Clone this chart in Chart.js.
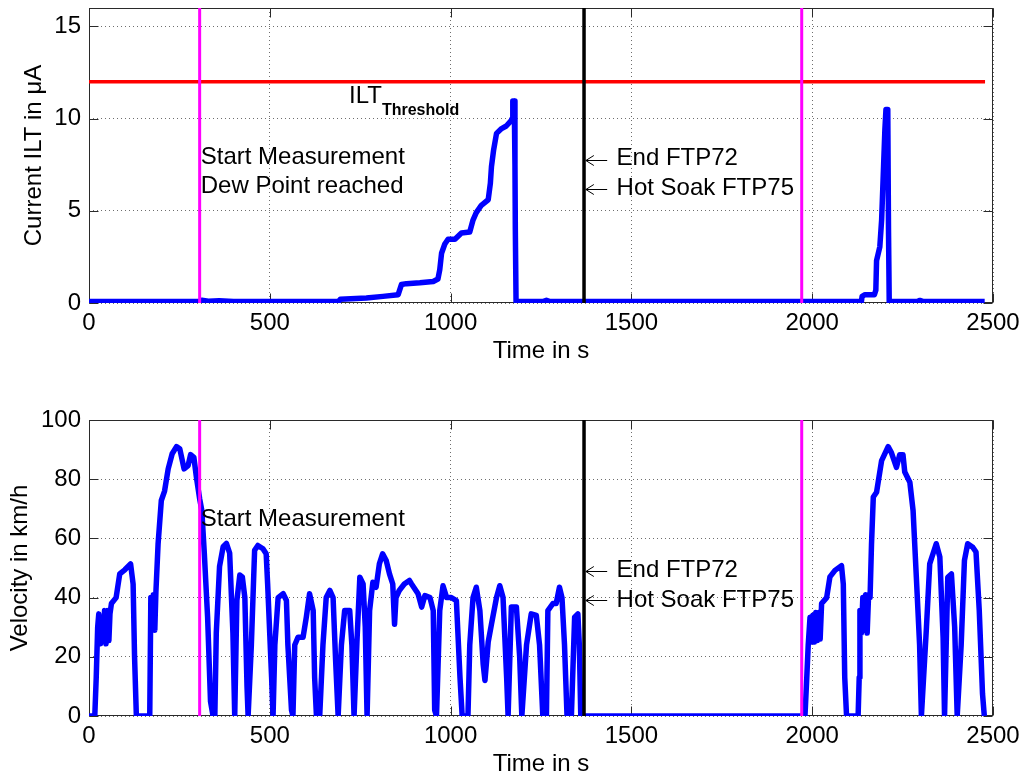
<!DOCTYPE html>
<html><head><meta charset="utf-8">
<script src="https://cdn.jsdelivr.net/npm/chart.js@4.4.1/dist/chart.umd.min.js"></script>
<style>
html,body{margin:0;padding:0;background:#fff;overflow:hidden;width:1022px;height:775px;}
canvas{position:absolute;left:0;}
#c1{top:0}
#c2{top:390px}
</style></head><body>
<canvas id="c1" width="1022" height="380"></canvas>
<canvas id="c2" width="1022" height="400"></canvas>
<script>
// ---------- data ----------
const timeTicks = [0, 500, 1000, 1500, 2000, 2500];
const iltTicks = [0, 5, 10, 15];
const velTicks = [0, 20, 40, 60, 80, 100];

const iltTime = [0,305,312,330,360,400,690,695,767,813,855,864,878,915,952,965,970,975,984,993,1012,1030,1053,1062,1071,1085,1104,1110,1113,1119,1127,1141,1154,1168,1170,1172,1176,1178,1179,1181,1255,1265,1275,2136,2138,2146,2172,2176,2178,2187,2192,2196,2201,2204,2209,2211,2213,2290,2298,2308,2477];
const iltValue = [0.08,0.08,0.15,0.1,0.12,0.08,0.08,0.2,0.27,0.36,0.45,1.0,1.05,1.1,1.17,1.3,1.8,2.7,3.2,3.46,3.46,3.8,3.85,4.5,4.9,5.3,5.6,6.5,7.4,8.3,9.2,9.46,9.6,9.9,10.0,10.95,10.95,7.5,4,0.08,0.08,0.15,0.08,0.08,0.36,0.45,0.45,0.7,2.3,3.05,4.5,6.66,9.4,10.5,10.5,4,0.08,0.08,0.14,0.08,0.08];

const velTime = [
0,16,20,24,27,32,36,39,43,47,
51,55,58,62,75,85,99,115,122,126,
131,168,171,174,178,182,185,191,200,209,
219,230,242,251,263,274,281,290,297,306,
312,319,328,336,343,348,352,361,371,380,
389,398,403,409,417,424,431,437,440,449,
458,467,481,490,494,505,509,514,523,537,
546,550,560,564,569,578,592,601,610,620,
624,629,638,647,656,666,675,682,689,698,
707,721,727,733,741,749,758,764,769,776,
785,794,803,812,822,831,840,845,849,858,
872,886,892,910,920,929,943,952,956,961,
970,979,989,1002,1016,1026,1032,1048,1053,1062,
1071,1081,1090,1095,1104,1113,1127,1136,1145,1155,
1159,1168,1182,1191,1197,1210,1223,1237,1246,1255,
1265,1269,1283,1292,1301,1308,1315,1322,1334,1343,
1352,1356,1360,1971,1980,1985,1989,1994,1998,2002,
2006,2010,2014,2018,2022,2026,2040,2049,2063,2081,
2086,2090,2095,2127,2130,2132,2136,2140,2144,2148,
2152,2156,2160,2164,2169,2178,2192,2210,2219,2233,
2242,2251,2256,2270,2279,2288,2297,2302,2316,2325,
2343,2353,2362,2366,2375,2385,2394,2401,2412,2421,
2430,2444,2453,2462,2471,2476];
const velValue = [
0,0,13,30,34.5,24.4,33,25.5,35.6,24.4,
35.6,25.5,34.5,38,40,48,49.4,51.4,44.6,20,
0,0,40,29,41,29,41.8,58,72.8,76,
83.5,88.6,91,90.3,83.5,84.6,88.3,87.4,80.7,73.4,
69.4,54.8,33.4,5,0,0,28,50.5,57.2,58.3,
55,28,0,39,47.6,47,40,10,0,24,
56,57.6,56.5,54.8,44.6,13,0,24,40,41.3,
39,24,2,0,24,26.6,26.6,33.4,41.3,35.6,
13,0,0,24,40,42.4,40,18.8,0,24,
35.6,35.6,24,0,25,46.9,44.6,30,0,35.6,
45.2,43.5,51.4,54.8,52.5,48,44.6,31,40,42.4,
44.6,45.8,44.6,41.3,36.8,40.7,40,35.6,2,0,
35.6,44,40,40,39,13,0,0,24,40,
43.5,35.6,17.6,12,25,31,40,44,40,13,
0,36.8,36.8,20,0,24,34.5,34,24,0,
0,35.6,38,38,43.5,40,24,0,0,33.4,
34.5,24,0,0,0,13,24,33.4,25,34,
25,35,25.5,35,26,38,40,47,49.2,50.8,
44.6,13,0,0,13,35.6,28,40,29,41,
28,41,40,58,74,75.6,86.3,91,89,84,
88.3,88.3,82.4,79,69.4,46.9,24,0,30,51.4,
58.2,53.7,26.6,0,46.9,48,30,0,24,52.5,
58.2,57,55.4,35.6,7.5,0];

const startMeasurement = 306;
const endFTP72 = 1369;
const endHotSoak = 1971;
const iltThreshold = 12;
const thresholdEnd = 2478;

const topNotes = [
  {text: 'ILT', sub: 'Threshold', x: 719, y: 10.85},
  {text: 'Start Measurement', x: 309, y: 7.56},
  {text: 'Dew Point reached', x: 309, y: 5.94},
  {text: 'End FTP72', x: 1459, y: 7.51, arrow: {tip: 1374, tail: 1433, y: 7.78}},
  {text: 'Hot Soak FTP75', x: 1459, y: 5.86, arrow: {tip: 1374, tail: 1433, y: 6.19}}
];
const bottomNotes = [
  {text: 'Start Measurement', x: 309, y: 64.2},
  {text: 'End FTP72', x: 1459, y: 47.1, arrow: {tip: 1374, tail: 1433, y: 49.0}},
  {text: 'Hot Soak FTP75', x: 1459, y: 36.9, arrow: {tip: 1374, tail: 1433, y: 39.2}}
];

// ---------- rendering ----------
const FONT = '"Liberation Sans", Arial, Helvetica, sans-serif';
Chart.defaults.font.family = FONT;
Chart.defaults.color = '#000';

function pts(xs, ys) { return xs.map((x, i) => ({x: x, y: ys[i]})); }
function vline(x, ymax) { return [{x: x, y: 0}, {x: x, y: ymax}]; }

const framePlugin = {
  id: 'frame',
  beforeDatasetsDraw(chart) {
    const {ctx, chartArea: a, scales} = chart;
    const L = Math.round(a.left) + 0.5, R = Math.round(a.right) - 0.5;
    const T = Math.round(a.top) + 0.5, B = Math.round(a.bottom) - 0.5;
    ctx.save();
    ctx.strokeStyle = '#2a2a2a';
    ctx.lineWidth = 1;
    ctx.setLineDash([]);
    ctx.strokeRect(L, T, R - L, B - T);
    const tl = 9;
    ctx.beginPath();
    scales.x.ticks.forEach(t => {
      const p = Math.round(scales.x.getPixelForValue(t.value)) + 0.5;
      ctx.moveTo(p, B); ctx.lineTo(p, B - tl);
      ctx.moveTo(p, T); ctx.lineTo(p, T + tl);
    });
    scales.y.ticks.forEach(t => {
      const p = Math.round(scales.y.getPixelForValue(t.value)) + 0.5;
      ctx.moveTo(L, p); ctx.lineTo(L + tl, p);
      ctx.moveTo(R, p); ctx.lineTo(R - tl, p);
    });
    ctx.stroke();
    ctx.restore();
  }
};

function makeNotes(items) {
  return {
    id: 'notes',
    afterDatasetsDraw(chart) {
      const {ctx} = chart;
      const xs = chart.scales.x, ys = chart.scales.y;
      ctx.save();
      ctx.fillStyle = '#000';
      ctx.strokeStyle = '#000';
      ctx.textBaseline = 'alphabetic';
      ctx.textAlign = 'left';
      items.forEach(n => {
        const px = xs.getPixelForValue(n.x), py = ys.getPixelForValue(n.y);
        ctx.font = '24px ' + FONT;
        ctx.fillText(n.text, px, py);
        if (n.sub) {
          const w = ctx.measureText(n.text).width;
          ctx.font = 'bold 16px ' + FONT;
          ctx.fillText(n.sub, px + w, py + 12);
        }
        if (n.arrow) {
          const x1 = xs.getPixelForValue(n.arrow.tip);
          const x2 = xs.getPixelForValue(n.arrow.tail);
          const ay = Math.round(ys.getPixelForValue(n.arrow.y)) + 0.5;
          ctx.lineWidth = 1;
          ctx.beginPath();
          ctx.moveTo(x2, ay); ctx.lineTo(x1, ay);
          ctx.moveTo(x1 + 8, ay - 5); ctx.lineTo(x1, ay); ctx.lineTo(x1 + 8, ay + 5);
          ctx.stroke();
        }
      });
      ctx.restore();
    }
  };
}

function lineDs(data, color, width, order) {
  return {data: data, borderColor: color, backgroundColor: color, borderWidth: width,
    pointRadius: 0, tension: 0, fill: false, order: order, clip: 0,
    borderJoinStyle: 'round', borderCapStyle: 'butt'};
}

function xScale(axisHeight, titlePad) {
  return {
    type: 'linear', min: 0, max: 2500,
    afterBuildTicks: s => { s.ticks = timeTicks.map(v => ({value: v})); },
    afterFit: s => { s.height = axisHeight; s.paddingLeft = 0; s.paddingRight = 0; s.paddingTop = 0; s.paddingBottom = 0; },
    grid: {color: '#6e6e6e', lineWidth: 1, drawTicks: false},
    border: {display: false, dash: [1, 3]},
    ticks: {font: {size: 24}, color: '#000', padding: 6, maxRotation: 0, minRotation: 0, autoSkip: false,
      callback: v => String(v)},
    title: {display: true, text: 'Time in s', font: {size: 24}, color: '#000', padding: {top: 0, bottom: titlePad}}
  };
}
function yScale(maxV, tickVals, title, titlePad) {
  return {
    type: 'linear', min: 0, max: maxV,
    afterBuildTicks: s => { s.ticks = tickVals.map(v => ({value: v})); },
    afterFit: s => { s.width = 89; s.paddingLeft = 0; s.paddingRight = 0; s.paddingTop = 0; s.paddingBottom = 0; },
    grid: {color: '#6e6e6e', lineWidth: 1, drawTicks: false},
    border: {display: false, dash: [1, 3]},
    ticks: {font: {size: 24}, color: '#000', padding: 8, autoSkip: false, callback: v => String(v)},
    title: {display: true, text: title, font: {size: 24}, color: '#000', padding: {top: titlePad, bottom: 0}}
  };
}

const common = {
  responsive: false, animation: false, devicePixelRatio: 1,
  plugins: {legend: {display: false}, tooltip: {enabled: false}},
  events: []
};

new Chart(document.getElementById('c1'), {
  type: 'line',
  data: {datasets: [
    lineDs(vline(startMeasurement, 16), '#ff00ff', 3, 1),
    lineDs(vline(endFTP72, 16), '#000000', 3.5, 1),
    lineDs(vline(endHotSoak, 16), '#ff00ff', 3, 1),
    lineDs([{x: 0, y: iltThreshold}, {x: thresholdEnd, y: iltThreshold}], '#ff0000', 3.5, 2),
    lineDs(pts(iltTime, iltValue), '#0000ff', 5.5, 3)
  ]},
  options: Object.assign({}, common, {
    layout: {padding: {left: 0, right: 29, top: 8, bottom: 0}},
    scales: {x: xScale(77, 14), y: yScale(16, iltTicks, 'Current ILT in \u03bcA', 20)}
  }),
  plugins: [framePlugin, makeNotes(topNotes)]
});

new Chart(document.getElementById('c2'), {
  type: 'line',
  data: {datasets: [
    lineDs(vline(startMeasurement, 100), '#ff00ff', 3, 1),
    lineDs(vline(endFTP72, 100), '#000000', 3.5, 1),
    lineDs(vline(endHotSoak, 100), '#ff00ff', 3, 1),
    lineDs(pts(velTime, velValue), '#0000ff', 5.5, 3)
  ]},
  options: Object.assign({}, common, {
    layout: {padding: {left: 0, right: 29, top: 30, bottom: 0}},
    scales: {x: xScale(74, 11), y: yScale(100, velTicks, 'Velocity in km/h', 6)}
  }),
  plugins: [framePlugin, makeNotes(bottomNotes)]
});
</script>
</body></html>
